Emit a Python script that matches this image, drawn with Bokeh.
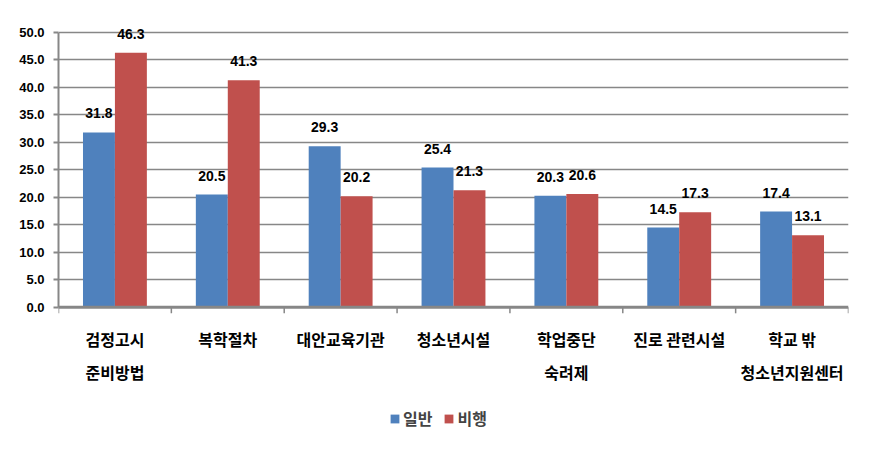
from bokeh.plotting import figure
from bokeh.models import (Range1d, LinearAxis, FixedTicker, NumeralTickFormatter,
                          ColumnDataSource, LabelSet, Legend, LegendItem, Grid, Span)
from bokeh.core.properties import value
from bokeh.embed import file_html
from bokeh.resources import INLINE

categories_line1 = ["검정고시", "복학절차", "대안교육기관", "청소년시설", "학업중단", "진로 관련시설", "학교 밖"]
categories_line2 = ["준비방법", "", "", "", "숙려제", "", "청소년지원센터"]
general = [31.8, 20.5, 29.3, 25.4, 20.3, 14.5, 17.4]
delinquent = [46.3, 41.3, 20.2, 21.3, 20.6, 17.3, 13.1]
series_names = ["일반", "비행"]
y_ticks = [0, 5, 10, 15, 20, 25, 30, 35, 40, 45, 50]

BLUE = "#4F81BD"
RED = "#C0504D"
GRAY = "#878787"
KFONT = "Noto Sans CJK KR"
NFONT = "Liberation Sans"

n = len(categories_line1)
bw = 0.283
centers = [i + 0.5 for i in range(n)]
xb = [c - bw / 2 for c in centers]
xr = [c + bw / 2 for c in centers]

PX = 5.5  # pixels per y unit (275 px for 0..50)
FRAME_H = 429
Y_TOP = 51.6
Y_BOT = Y_TOP - FRAME_H / PX

p = figure(frame_width=790, frame_height=FRAME_H, output_backend="svg", toolbar_location=None,
           x_range=Range1d(0, n), y_range=Range1d(Y_BOT, Y_TOP),
           x_axis_type=None, y_axis_type=None,
           min_border_left=58, min_border_right=34, min_border_top=23, min_border_bottom=0)
p.outline_line_color = None
p.background_fill_color = "white"
p.border_fill_color = "white"

src = ColumnDataSource(dict(xb=xb, xr=xr, g=general, d=delinquent,
                            gl=[f"{v:.1f}" for v in general],
                            dl=[f"{v:.1f}" for v in delinquent]))

grid = Grid(dimension=1, ticker=FixedTicker(ticks=y_ticks[1:]), grid_line_color=GRAY, grid_line_width=1.5)
p.add_layout(grid)

r1 = p.vbar(x="xb", top="g", width=bw, bottom=0, source=src, fill_color=BLUE, line_color=None)
r2 = p.vbar(x="xr", top="d", width=bw, bottom=0, source=src, fill_color=RED, line_color=None)

# y axis
yax = LinearAxis(ticker=FixedTicker(ticks=y_ticks), formatter=NumeralTickFormatter(format="0.0"),
                 bounds=(0, 50))
yax.axis_line_color = GRAY
yax.axis_line_width = 2
yax.major_tick_line_color = GRAY
yax.major_tick_line_width = 2
yax.major_tick_out = 5
yax.major_tick_in = 0
yax.minor_tick_line_color = None
yax.major_label_text_font = NFONT
yax.major_label_text_font_style = "bold"
yax.major_label_text_font_size = "13px"
yax.major_label_text_color = "black"
yax.major_label_standoff = 9
p.add_layout(yax, "left")

# category axis baseline and boundary tick marks
p.add_layout(Span(location=0, dimension="width", line_color=GRAY, line_width=3))
bounds_x = list(range(n + 1))
tick_len = 6 / PX
p.segment(x0=bounds_x, y0=[0] * (n + 1), x1=bounds_x, y1=[-tick_len] * (n + 1),
          line_color=GRAY, line_width=1.5)

# category labels (two lines)
cat_src = ColumnDataSource(dict(x=centers, y=[0] * n, l1=categories_line1, l2=categories_line2))
for col, off in (("l1", -32), ("l2", -65)):
    p.add_layout(LabelSet(x="x", y="y", text=col, source=cat_src, text_align="center",
                          text_baseline="middle", y_offset=off, text_font=value(KFONT),
                          text_font_style="bold", text_font_size="16px", text_color="black"))

# data labels
for xcol, ycol, tcol in (("xb", "g", "gl"), ("xr", "d", "dl")):
    ls = LabelSet(x=xcol, y=ycol, text=tcol, source=src, text_align="center",
                  text_baseline="middle", y_offset=19, text_font=value(NFONT),
                  text_font_style="bold", text_font_size="14px", text_color="black")
    p.add_layout(ls)

legend = Legend(items=[LegendItem(label=series_names[0], renderers=[r1]),
                       LegendItem(label=series_names[1], renderers=[r2])],
                orientation="horizontal", location=(331, 22))
legend.border_line_color = None
legend.background_fill_alpha = 0
legend.label_text_font = KFONT
legend.label_text_font_style = "bold"
legend.label_text_font_size = "16px"
legend.glyph_width = 11
legend.glyph_height = 11
legend.label_standoff = 3
legend.spacing = 11
legend.padding = 4
legend.margin = 0
p.add_layout(legend, "center")

open("out.html", "w").write(file_html(p, INLINE))
